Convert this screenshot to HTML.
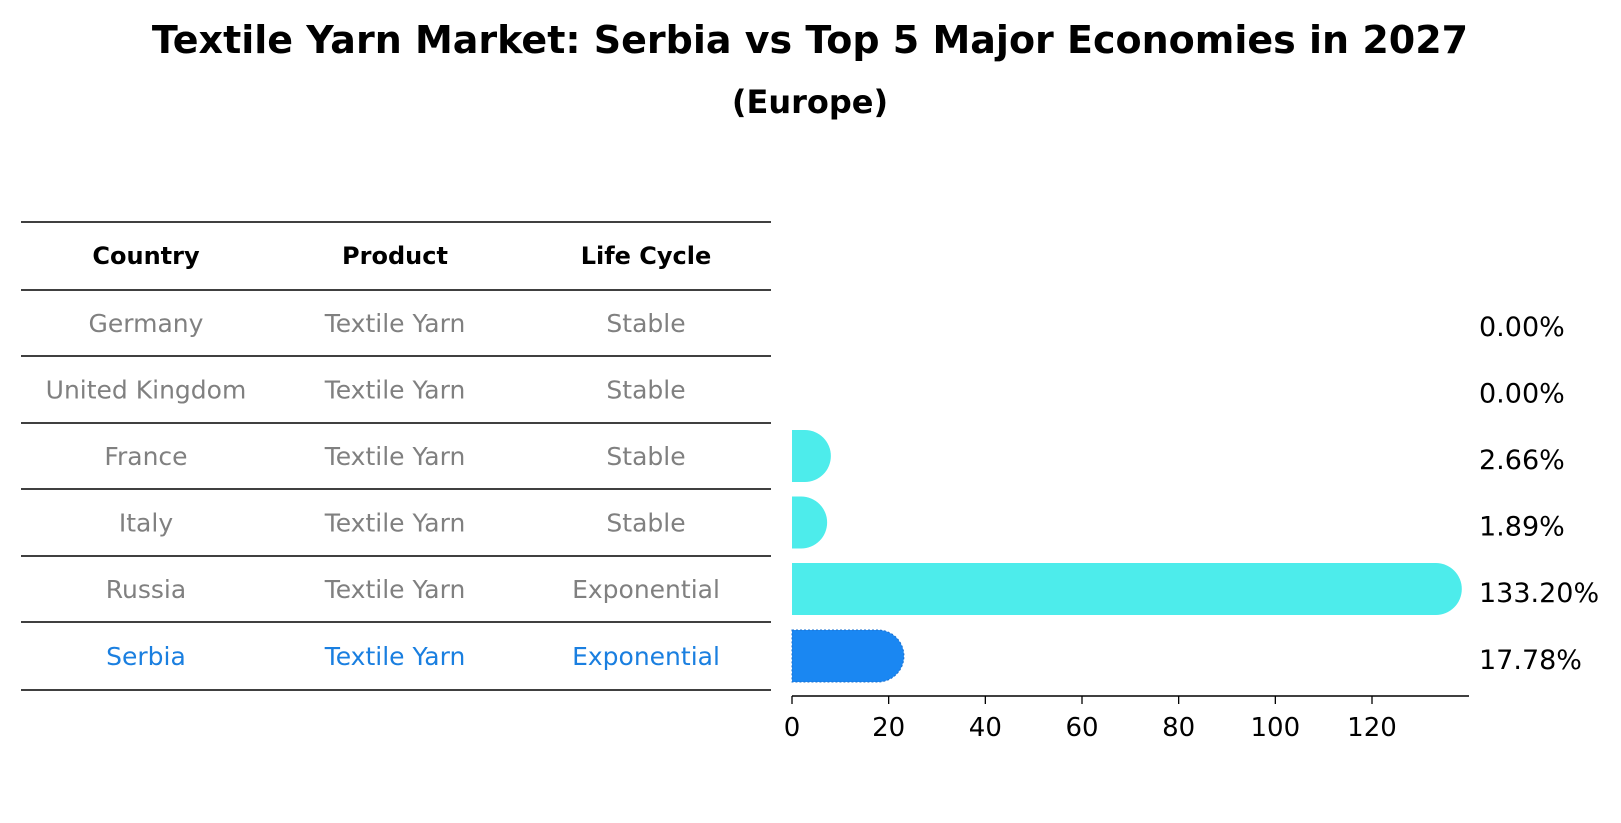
<!DOCTYPE html>
<html><head><meta charset="utf-8">
<style>
body{margin:0;background:#fff;font-family:"DejaVu Sans","Liberation Sans",sans-serif;}
svg{display:block}
</style></head>
<body>
<svg id="chart" width="1621" height="823" xmlns="http://www.w3.org/2000/svg">
<text x="810" y="53" text-anchor="middle" font-size="38" font-weight="bold">Textile Yarn Market: Serbia vs Top 5 Major Economies in 2027</text>
<text x="810" y="113" text-anchor="middle" font-size="32" font-weight="bold">(Europe)</text>
<g id="table"></g>
<g id="bars"></g>
</svg>
<script>
const countries=["Germany","United Kingdom","France","Italy","Russia","Serbia"];
const products=["Textile Yarn","Textile Yarn","Textile Yarn","Textile Yarn","Textile Yarn","Textile Yarn"];
const lifeCycles=["Stable","Stable","Stable","Stable","Exponential","Exponential"];
const growth=[0.00,0.00,2.66,1.89,133.20,17.78];
const ticks=[0,20,40,60,80,100,120];

const NS="http://www.w3.org/2000/svg";
function mk(tag,attrs,parent){const e=document.createElementNS(NS,tag);for(const k in attrs)e.setAttribute(k,attrs[k]);parent.appendChild(e);return e;}
const table=document.getElementById('table');
const bars=document.getElementById('bars');
const lineYs=[222,290,356,423,489,556,622,690];
const colX=[146,395,646];
function rowY(i){return (lineYs[i+1]+lineYs[i+2])/2;}
const x0=792, pxPerUnit=(1372-792)/120;
function xs(v){return x0+v*pxPerUnit;}

lineYs.forEach((y,i)=>{
  const l=mk('line',{x1:21,x2:771,y1:y,y2:y,stroke:'#000','stroke-width':1.4},table);
  
  
});
["Country","Product","Life Cycle"].forEach((h,j)=>{
  const t=mk('text',{x:colX[j],y:(lineYs[0]+lineYs[1])/2+8,'text-anchor':'middle','font-size':24,'font-weight':'bold'},table);
  t.textContent=h;
  
  
});
countries.forEach((c,i)=>{
  const col=c==="Serbia"?'#1a7fe0':'#808080';
  [c,products[i],lifeCycles[i]].forEach((v,j)=>{
    const t=mk('text',{x:colX[j],y:rowY(i)+9,'text-anchor':'middle','font-size':25,fill:col},table);
    t.textContent=v;
    
    
  });
  const h=52, y=rowY(i)-h/2, r=h/2;
  if(growth[i]>0){
    const w=xs(growth[i])-x0;
    const color=c==="Serbia"?'#1a87f2':'#4deceb';
    const p=mk('path',{d:`M${x0},${y} H${x0+w} A${r},${r} 0 0 1 ${x0+w},${y+h} H${x0} Z`,fill:color},bars);
    if(c==="Serbia"){p.setAttribute('stroke','#1a70d0');p.setAttribute('stroke-dasharray','2,2');p.setAttribute('stroke-width','1');}
    
    
  }
  const lt=mk('text',{x:1479,y:rowY(i)+13,'font-size':27},bars);
  lt.textContent=growth[i].toFixed(2)+'%';
  
  
});
const ax=mk('line',{x1:x0,x2:1469,y1:696,y2:696,stroke:'#000','stroke-width':1.6},bars);


ticks.forEach(t=>{
  const tl=mk('line',{x1:xs(t),x2:xs(t),y1:696,y2:704,stroke:'#000','stroke-width':1.3},bars);
  
  
  const tx=mk('text',{x:xs(t),y:736,'text-anchor':'middle','font-size':26},bars);
  tx.textContent=t;
  
  
});
</script>
</body></html>
